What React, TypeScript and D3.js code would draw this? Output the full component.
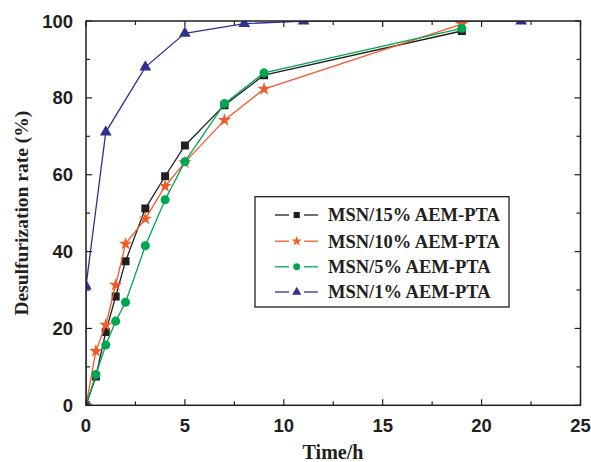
import React from "react";
import * as d3 from "d3";

const xTicks = [0, 5, 10, 15, 20, 25];
const yTicks = [0, 20, 40, 60, 80, 100];

const t15 = [0, 0.5, 1, 1.5, 2, 3, 4, 5, 7, 9, 19];
const v15 = [0, 7.5, 19.1, 28.3, 37.5, 51.2, 59.6, 67.6, 78.1, 85.9, 97.4];

const t10 = [0, 0.5, 1, 1.5, 2, 3, 4, 5, 7, 9, 19];
const v10 = [0, 14.1, 20.9, 31.3, 42.0, 48.5, 57.0, 63.2, 74.2, 82.3, 99.2];

const t5 = [0, 0.5, 1, 1.5, 2, 3, 4, 5, 7, 9, 19];
const v5 = [0, 8.0, 15.7, 21.9, 26.8, 41.5, 53.5, 63.4, 78.5, 86.5, 98.1];

const t1 = [0, 0, 1, 3, 5, 8, 11, 22];
const v1 = [0, 31, 71.1, 88.0, 96.8, 99.3, 100, 100];

const seriesNames = ["MSN/15% AEM-PTA", "MSN/10% AEM-PTA", "MSN/5% AEM-PTA", "MSN/1% AEM-PTA"];
const seriesColors = ["#231f20", "#f15a29", "#00a651", "#2e3192"];
const seriesShapes = ["square", "star", "circle", "triangle"];

const series = [
  { t: t15, v: v15 },
  { t: t10, v: v10 },
  { t: t5, v: v5 },
  { t: t1, v: v1 },
];

const L = 86, R = 580.5, T = 21, B = 405.3;

const x = d3.scaleLinear().domain([0, 25]).range([L, R]);
const y = d3.scaleLinear().domain([0, 100]).range([B, T]);

const symbolFor = (shape: string) =>
  shape === "square" ? d3.symbolSquare : shape === "star" ? d3.symbolStar : shape === "circle" ? d3.symbolCircle : d3.symbolTriangle;

const sizeFor = (shape: string, scale: number) => {
  const base = shape === "square" ? 64 : shape === "star" ? 55 : shape === "circle" ? 64 : 60;
  return base * scale;
};

export default function App() {
  const line = d3.line<[number, number]>().x((d) => x(d[0])).y((d) => y(d[1]));
  const xMinor = d3.range(0, 25.01, 2.5);
  const yMinor = d3.range(0, 100.01, 10);
  const axisColor = "#231f20";
  const legendRows = [215, 241.2, 266.8, 292];
  return (
    <svg width={591} height={462} style={{ position: "absolute", left: 0, top: 0, background: "#fff" }}>
      <defs>
        <clipPath id="plotclip">
          <rect x={L} y={T} width={R - L} height={B - T} />
        </clipPath>
      </defs>
      <rect x={0} y={0} width={591} height={462} fill="#fff" />
      <g clipPath="url(#plotclip)">
        {series.map((s, i) => {
          const pts = s.t.map((t, j) => [t, s.v[j]] as [number, number]);
          return (
            <g key={i}>
              <path d={line(pts) || ""} fill="none" stroke={seriesColors[i]} strokeWidth={1.3} />
              {pts.map((p, j) => (
                <path
                  key={j}
                  d={d3.symbol().type(symbolFor(seriesShapes[i])).size(sizeFor(seriesShapes[i], 1))() || ""}
                  transform={`translate(${x(p[0])},${y(p[1])})`}
                  fill={seriesColors[i]}
                />
              ))}
            </g>
          );
        })}
      </g>
      <rect x={L} y={T} width={R - L} height={B - T} fill="none" stroke={axisColor} strokeWidth={1.5} />
      {xMinor.map((t, i) => {
        const major = Math.abs(t % 5) < 1e-6;
        const len = major ? 6 : 4;
        return (
          <g key={"xt" + i}>
            <line x1={x(t)} x2={x(t)} y1={B} y2={B - len} stroke={axisColor} strokeWidth={1.2} />
            <line x1={x(t)} x2={x(t)} y1={T} y2={T + len} stroke={axisColor} strokeWidth={1.2} />
          </g>
        );
      })}
      {yMinor.map((v, i) => {
        const major = Math.abs(v % 20) < 1e-6;
        const len = major ? 6 : 4;
        return (
          <g key={"yt" + i}>
            <line x1={L} x2={L + len} y1={y(v)} y2={y(v)} stroke={axisColor} strokeWidth={1.2} />
            <line x1={R} x2={R - len} y1={y(v)} y2={y(v)} stroke={axisColor} strokeWidth={1.2} />
          </g>
        );
      })}
      {xTicks.map((t) => (
        <text key={"xl" + t} x={x(t)} y={432} textAnchor="middle" fontFamily="Liberation Sans, Arial, sans-serif" fontWeight="bold" fontSize={18.5} fill="#231f20">
          {t}
        </text>
      ))}
      {yTicks.map((v) => (
        <text key={"yl" + v} x={73} y={y(v) + 6.6} textAnchor="end" fontFamily="Liberation Sans, Arial, sans-serif" fontWeight="bold" fontSize={18.5} fill="#231f20">
          {v}
        </text>
      ))}
      <text x={333} y={459} textAnchor="middle" fontFamily="Liberation Serif, Times New Roman, serif" fontWeight="bold" fontSize={20} fill="#231f20">
        Time/h
      </text>
      <text
        transform={`translate(28,${(T + B) / 2}) rotate(-90)`}
        textAnchor="middle"
        fontFamily="Liberation Serif, Times New Roman, serif"
        fontWeight="bold"
        fontSize={19.5}
        fill="#231f20"
      >
        Desulfurization rate (%)
      </text>
      <rect x={255} y={196.7} width={254} height={110.3} fill="#fff" stroke="#231f20" strokeWidth={1.3} />
      {seriesNames.map((n, i) => (
        <g key={"lg" + i}>
          <line x1={275} x2={289} y1={legendRows[i]} y2={legendRows[i]} stroke={seriesColors[i]} strokeWidth={1.3} />
          <line x1={304} x2={318} y1={legendRows[i]} y2={legendRows[i]} stroke={seriesColors[i]} strokeWidth={1.3} />
          <path
            d={d3.symbol().type(symbolFor(seriesShapes[i])).size(sizeFor(seriesShapes[i], 0.6))() || ""}
            transform={`translate(296.7,${legendRows[i]})`}
            fill={seriesColors[i]}
          />
          <text x={328} y={legendRows[i] + 6.4} fontFamily="Liberation Serif, Times New Roman, serif" fontWeight="bold" fontSize={18.5} fill="#231f20">
            {n}
          </text>
        </g>
      ))}
    </svg>
  );
}
